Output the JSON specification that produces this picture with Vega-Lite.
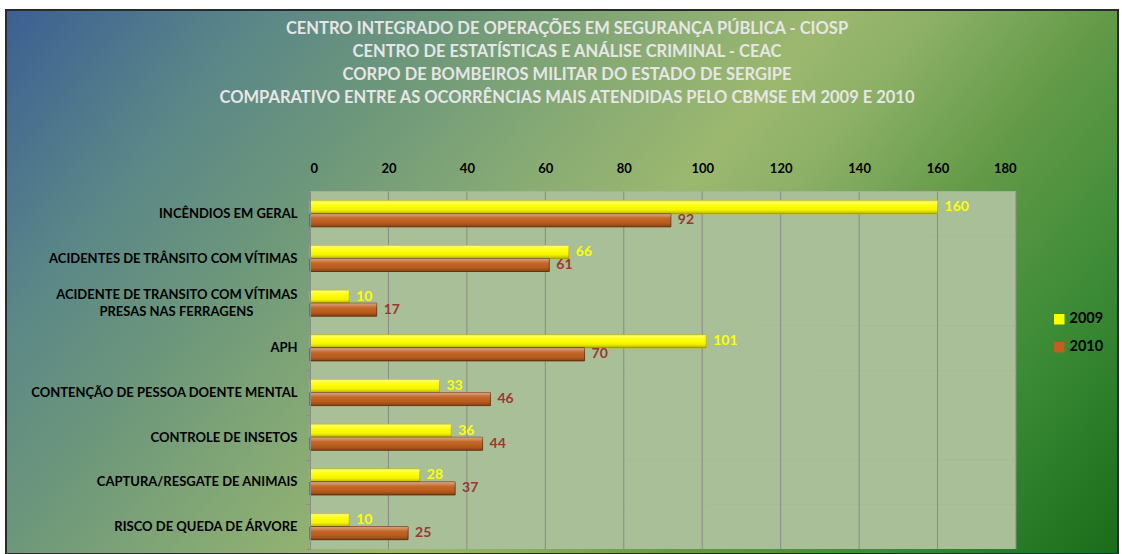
{
  "$schema": "https://vega.github.io/schema/vega-lite/v6.json",
  "width": 1112,
  "height": 544,
  "autosize": "none",
  "padding": {"left": 6, "top": 10, "right": 4, "bottom": 0},
  "background": "white",
  "config": {
    "font": "Lato",
    "view": {
      "fill": {"gradient": "linear", "x1": 0, "y1": 0, "x2": 1.207, "y2": 0.483,
        "stops": [
          {"offset": 0, "color": "#3c5f93"},
          {"offset": 0.16, "color": "#5a8688"},
          {"offset": 0.29, "color": "#6e987a"},
          {"offset": 0.42, "color": "#88ab74"},
          {"offset": 0.53, "color": "#9cb86f"},
          {"offset": 0.6, "color": "#8cb066"},
          {"offset": 0.71, "color": "#639a48"},
          {"offset": 0.85, "color": "#3a8a35"},
          {"offset": 1, "color": "#1a6c1a"}
        ]},
      "stroke": "#2b2b2b",
      "strokeWidth": 2
    }
  },
  "title": {
    "text": [
      "CENTRO INTEGRADO DE OPERAÇÕES EM SEGURANÇA PÚBLICA - CIOSP",
      "CENTRO DE ESTATÍSTICAS E ANÁLISE CRIMINAL - CEAC",
      "CORPO DE BOMBEIROS MILITAR DO ESTADO DE SERGIPE",
      "COMPARATIVO ENTRE AS OCORRÊNCIAS MAIS ATENDIDAS PELO CBMSE EM 2009 E 2010"
    ],
    "anchor": "middle",
    "frame": "group",
    "offset": -102,
    "dx": 5,
    "font": "Lato",
    "fontSize": 16.5,
    "fontWeight": "bold",
    "color": "#e6e6e6",
    "lineHeight": 23
  },
  "data": {
    "values": [
      {"cat": "INCÊNDIOS EM GERAL", "year": "2009", "value": 160},
      {"cat": "INCÊNDIOS EM GERAL", "year": "2010", "value": 92},
      {"cat": "ACIDENTES DE TRÂNSITO COM VÍTIMAS", "year": "2009", "value": 66},
      {"cat": "ACIDENTES DE TRÂNSITO COM VÍTIMAS", "year": "2010", "value": 61},
      {"cat": "ACIDENTE DE TRANSITO COM VÍTIMAS\nPRESAS NAS FERRAGENS", "year": "2009", "value": 10},
      {"cat": "ACIDENTE DE TRANSITO COM VÍTIMAS\nPRESAS NAS FERRAGENS", "year": "2010", "value": 17},
      {"cat": "APH", "year": "2009", "value": 101},
      {"cat": "APH", "year": "2010", "value": 70},
      {"cat": "CONTENÇÃO DE PESSOA DOENTE MENTAL", "year": "2009", "value": 33},
      {"cat": "CONTENÇÃO DE PESSOA DOENTE MENTAL", "year": "2010", "value": 46},
      {"cat": "CONTROLE DE INSETOS", "year": "2009", "value": 36},
      {"cat": "CONTROLE DE INSETOS", "year": "2010", "value": 44},
      {"cat": "CAPTURA/RESGATE DE ANIMAIS", "year": "2009", "value": 28},
      {"cat": "CAPTURA/RESGATE DE ANIMAIS", "year": "2010", "value": 37},
      {"cat": "RISCO DE QUEDA DE ÁRVORE", "year": "2009", "value": 10},
      {"cat": "RISCO DE QUEDA DE ÁRVORE", "year": "2010", "value": 25}
    ]
  },
  "layer": [
    {
      "mark": {"type": "rect", "fill": "#a8bf97"},
      "encoding": {
        "y": {
          "field": "cat", "type": "nominal", "sort": null,
          "scale": {
            "domain": [
              "INCÊNDIOS EM GERAL",
              "ACIDENTES DE TRÂNSITO COM VÍTIMAS",
              "ACIDENTE DE TRANSITO COM VÍTIMAS\nPRESAS NAS FERRAGENS",
              "APH",
              "CONTENÇÃO DE PESSOA DOENTE MENTAL",
              "CONTROLE DE INSETOS",
              "CAPTURA/RESGATE DE ANIMAIS",
              "RISCO DE QUEDA DE ÁRVORE"
            ],
            "range": [181.5, 539],
            "paddingInner": 0,
            "paddingOuter": 0
          },
          "axis": {
            "orient": "left",
            "offset": -304,
            "title": null,
            "grid": false,
            "tickBand": "extent",
            "tickSize": 4,
            "tickColor": "#8c8c8c",
            "domainColor": "#8c8c8c",
            "labelPadding": 9,
            "labelLimit": 400,
            "labelFont": "Lato",
            "labelFontSize": 13,
            "labelFontWeight": "bold",
            "labelColor": "#000000",
            "labelLineHeight": 17,
            "labelOffset": {"condition": {"test": "indexof(datum.label, '\\n') >= 0", "value": -8.5}, "value": 0},
            "labelExpr": "indexof(datum.label, '\\n') >= 0 ? [split(datum.label, '\\n')[0], split(datum.label, '\\n')[1] + '\u00a0\u00a0\u00a0\u00a0\u00a0\u00a0\u00a0\u00a0\u00a0\u00a0\u00a0\u00a0\u00a0\u00a0\u2060'] : datum.label"
          }
        },
        "x": {
          "datum": 0, "type": "quantitative",
          "scale": {"domain": [0, 180], "range": [304, 1010], "nice": false},
          "axis": {
            "orient": "top",
            "offset": -181.5,
            "title": null,
            "grid": false,
            "ticks": false,
            "values": [0, 20, 40, 60, 80, 100, 120, 140, 160, 180],
            "domainColor": "#8c8c8c",
            "labelPadding": 16,
            "labelFont": "Lato",
            "labelFontSize": 13,
            "labelFontWeight": "bold",
            "labelColor": "#000000"
          }
        },
        "x2": {"datum": 180}
      }
    },
    {
      "data": {"values": [{"v": 20}, {"v": 40}, {"v": 60}, {"v": 80}, {"v": 100}, {"v": 120}, {"v": 140}, {"v": 160}, {"v": 180}]},
      "mark": {"type": "rule", "color": "#8a8a8a", "strokeWidth": 1},
      "encoding": {
        "x": {"field": "v", "type": "quantitative"},
        "y": {"datum": "INCÊNDIOS EM GERAL", "type": "nominal", "bandPosition": 0},
        "y2": {"datum": "RISCO DE QUEDA DE ÁRVORE", "bandPosition": 1}
      }
    },
    {
      "mark": {"type": "bar", "strokeWidth": 1},
      "encoding": {
        "y": {"field": "cat", "type": "nominal", "sort": null},
        "yOffset": {"field": "year", "type": "nominal", "scale": {"domain": ["2009", "2010"], "paddingInner": 0, "paddingOuter": 0.72}},
        "x": {"field": "value", "type": "quantitative"},
        "color": {
          "field": "year", "type": "nominal",
          "scale": {"domain": ["2009", "2010"], "range": ["#ffff00", "#c0601e"]},
          "legend": {
            "orient": "none",
            "legendX": 1046,
            "legendY": 302,
            "title": null,
            "symbolType": "square",
            "symbolSize": 110,
            "symbolStrokeWidth": 0,
            "labelFont": "Lato",
            "labelFontSize": 14.5,
            "labelFontWeight": "bold",
            "labelColor": "#000000",
            "labelOffset": 3,
            "rowPadding": 13
          }
        },
        "stroke": {"condition": {"test": "datum.year == '2009'", "value": "#c8bc00"}, "value": "#7a3a12"}
      }
    },
    {
      "mark": {"type": "bar", "fill": {"gradient": "linear", "x1": 0, "y1": 0, "x2": 0, "y2": 1,
        "stops": [
          {"offset": 0, "color": "rgba(255,255,255,0.45)"},
          {"offset": 0.35, "color": "rgba(255,255,255,0.05)"},
          {"offset": 0.7, "color": "rgba(0,0,0,0.04)"},
          {"offset": 1, "color": "rgba(0,0,0,0.3)"}
        ]}},
      "encoding": {
        "y": {"field": "cat", "type": "nominal", "sort": null},
        "yOffset": {"field": "year", "type": "nominal"},
        "x": {"field": "value", "type": "quantitative"}
      }
    },
    {
      "mark": {"type": "text", "align": "left", "baseline": "middle", "dx": 7, "font": "Lato", "fontSize": 14, "fontWeight": "bold"},
      "encoding": {
        "y": {"field": "cat", "type": "nominal", "sort": null},
        "yOffset": {"field": "year", "type": "nominal"},
        "x": {"field": "value", "type": "quantitative"},
        "text": {"field": "value", "type": "quantitative"},
        "color": {"condition": {"test": "datum.year == '2009'", "value": "#ffff00"}, "value": "#9e3634"}
      }
    }
  ]
}
